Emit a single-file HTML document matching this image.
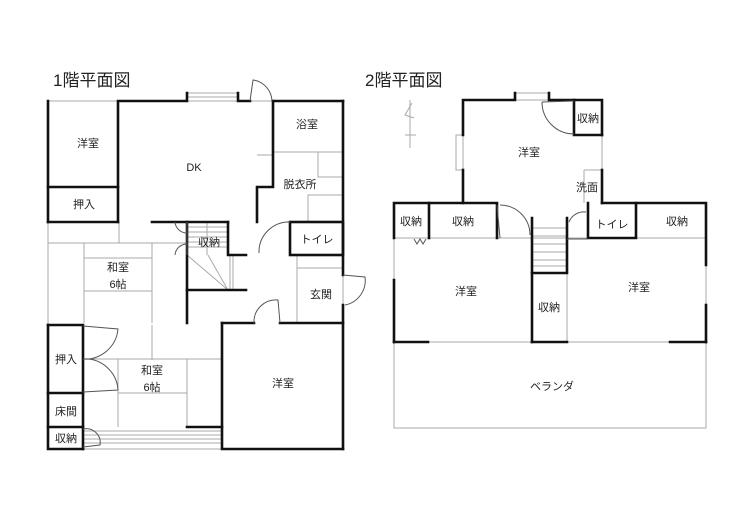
<!DOCTYPE html>
<html><head><meta charset="utf-8"><style>
html,body{margin:0;padding:0;background:#fff;width:733px;height:518px;overflow:hidden}
svg{display:block}
text{font-family:"Liberation Sans","Noto Sans CJK JP",sans-serif;fill:#222}
.t{stroke:#111;stroke-width:2.6;fill:none;stroke-linecap:square}
.n{stroke:#aaa;stroke-width:1;fill:none}
.m{stroke:#555;stroke-width:1;fill:none}
</style></head><body>
<svg width="733" height="518" viewBox="0 0 733 518">
<text x="53" y="86" font-size="17">1階平面図</text>
<text x="365" y="86" font-size="17">2階平面図</text>

<!-- ===== 1F thin lines ===== -->
<g class="n">
<rect x="48" y="101" width="295" height="348"/>
<line x1="273" y1="152" x2="343" y2="152"/>
<rect x="318" y="152" width="25" height="25"/>
<rect x="308" y="195" width="35" height="27"/>
<line x1="257" y1="155" x2="273" y2="155"/>
<line x1="48" y1="243" x2="187" y2="243"/>
<line x1="84" y1="243" x2="84" y2="323"/>
<line x1="152" y1="243" x2="152" y2="323"/>
<line x1="84" y1="291" x2="152" y2="291"/>
<line x1="84" y1="258" x2="152" y2="258"/>
<line x1="119" y1="222" x2="119" y2="243"/>
<line x1="152" y1="325" x2="152" y2="360"/>
<line x1="83" y1="359" x2="222" y2="359"/>
<line x1="118" y1="359" x2="118" y2="427"/>
<line x1="187" y1="359" x2="187" y2="427"/>
<line x1="118" y1="393" x2="187" y2="393"/>
<line x1="297" y1="255" x2="297" y2="323"/>
<line x1="297" y1="268" x2="343" y2="268"/>
<rect x="187" y="93" width="51" height="8"/>
<line x1="187" y1="97" x2="238" y2="97"/>
<line x1="187" y1="255" x2="228" y2="290"/>
<line x1="208" y1="255" x2="228" y2="290"/>
<line x1="230" y1="255" x2="230" y2="290"/>
<line x1="233" y1="255" x2="233" y2="290"/>
</g>
<!-- stairs 1F -->
<g class="n">
<line x1="187" y1="227" x2="228" y2="227"/><line x1="187" y1="232" x2="228" y2="232"/>
<line x1="187" y1="237" x2="228" y2="237"/><line x1="187" y1="242" x2="228" y2="242"/>
<line x1="187" y1="247" x2="228" y2="247"/>
<line x1="207" y1="222" x2="207" y2="255"/>
</g>
<!-- corridor hatch -->
<g class="n">
<line x1="83" y1="431" x2="222" y2="431"/><line x1="83" y1="435" x2="222" y2="435"/>
<line x1="83" y1="439" x2="222" y2="439"/><line x1="83" y1="443" x2="222" y2="443"/>
</g>
<!-- 1F thick walls -->
<g class="t">
<polyline points="48,101 48,222"/>
<line x1="48" y1="187" x2="118" y2="187"/>
<line x1="48" y1="222" x2="118" y2="222"/>
<polyline points="118,222 118,101 187,101 187,93"/>
<polyline points="238,93 238,101 250,101"/>
<polyline points="273,101 273,187 257,187 257,222"/>
<line x1="152" y1="222" x2="228" y2="222"/>
<line x1="273" y1="101" x2="343" y2="101"/>
<line x1="343" y1="101" x2="343" y2="275"/>
<line x1="343" y1="305" x2="343" y2="449"/>
<rect x="290" y="222" width="53" height="33"/>
<polyline points="228,222 228,255 246,255"/>
<polyline points="187,222 187,323"/>
<polyline points="187,290 246,290"/>
<line x1="222" y1="323" x2="254" y2="323"/>
<line x1="280" y1="323" x2="343" y2="323"/>
<polyline points="48,325 48,449 83,449"/>
<polyline points="48,325 83,325 83,449"/>
<line x1="48" y1="393" x2="83" y2="393"/>
<line x1="48" y1="427" x2="83" y2="427"/>
<polyline points="222,323 222,449 343,449"/>
<line x1="187" y1="427" x2="222" y2="427"/>
</g>
<!-- 1F doors -->
<g class="m">
<path d="M250,101 L253,80 A22,22 0 0 1 272,101"/>
<path d="M187,222 L187,255 M187,233 A12,12 0 0 1 175,222 M187,244 A12,12 0 0 0 175,255"/>
<path d="M290,222 A30,30 0 0 0 259,253"/>
<path d="M254,323 A22,22 0 0 1 278,300 L280,323"/>
<path d="M343,275 L365,277 A25,25 0 0 1 345,305"/>
<path d="M83,326 L118,329 A33,33 0 0 1 83,359 A33,33 0 0 1 118,390 L83,392"/>
<path d="M83,429 A14,14 0 0 1 100,445 L83,447"/>
</g>
<g font-size="11" text-anchor="middle">
<text x="88" y="147">洋室</text>
<text x="194" y="171">DK</text>
<text x="307" y="128">浴室</text>
<text x="300" y="188">脱衣所</text>
<text x="84" y="208">押入</text>
<text x="209" y="246">収納</text>
<text x="317" y="243">トイレ</text>
<text x="118" y="271">和室</text>
<text x="118" y="288">6帖</text>
<text x="321" y="298">玄関</text>
<text x="66" y="363">押入</text>
<text x="152" y="374">和室</text>
<text x="152" y="391">6帖</text>
<text x="283" y="387">洋室</text>
<text x="66" y="415">床間</text>
<text x="66" y="442">収納</text>
</g>

<!-- ===== 2F ===== -->
<g class="n">
<rect x="394" y="238" width="312" height="190"/>
<line x1="394" y1="342" x2="706" y2="342"/>
<rect x="515" y="93" width="34" height="7"/>
<rect x="456" y="135" width="7" height="35"/>
<line x1="602" y1="135" x2="602" y2="170"/>
<line x1="584" y1="170" x2="584" y2="203"/>
<line x1="584" y1="170" x2="602" y2="170"/>
<line x1="588" y1="203" x2="588" y2="238"/>
<line x1="567" y1="238" x2="567" y2="342"/>
<line x1="410" y1="100" x2="410" y2="148"/>
<line x1="405" y1="135" x2="416" y2="135"/>
<polyline points="412,103 405,115 414,118"/>
</g>
<g class="n">
<line x1="532" y1="228" x2="567" y2="228"/><line x1="532" y1="236" x2="567" y2="236"/>
<line x1="532" y1="244" x2="567" y2="244"/><line x1="532" y1="252" x2="567" y2="252"/>
<line x1="532" y1="260" x2="567" y2="260"/><line x1="532" y1="266" x2="567" y2="266"/>
</g>
<g class="t">
<polyline points="463,203 463,170"/>
<polyline points="463,135 463,100 515,100 515,93"/>
<polyline points="549,93 549,100 602,100 602,135"/>
<polyline points="574,100 574,135 602,135"/>
<line x1="602" y1="170" x2="602" y2="203"/>
<polyline points="394,238 394,203 497,203 497,238"/>
<line x1="429" y1="203" x2="429" y2="238"/>
<polyline points="532,218 532,342"/>
<polyline points="567,218 567,273 532,273"/>
<polyline points="602,203 706,203 706,265"/>
<polyline points="588,203 588,238 636,238 636,203"/>
<line x1="394" y1="280" x2="394" y2="342"/>
<line x1="706" y1="305" x2="706" y2="342"/>
<line x1="394" y1="342" x2="428" y2="342"/>
<line x1="532" y1="342" x2="567" y2="342"/>
<line x1="670" y1="342" x2="706" y2="342"/>
</g>
<g class="m">
<path d="M497,205 L500,238 M500,205 A30,30 0 0 1 530,235"/>
<path d="M542,102 L574,101 M542,102 A32,32 0 0 0 574,134"/>
<path d="M567,239 L588,239 M569,222 A16,16 0 0 1 586,212"/>
<polyline points="414,239 417,244 420,239 423,244 426,239"/>
</g>
<g font-size="11" text-anchor="middle">
<text x="529" y="156">洋室</text>
<text x="588" y="122">収納</text>
<text x="587" y="191">洗面</text>
<text x="411" y="225">収納</text>
<text x="463" y="225">収納</text>
<text x="612" y="228">トイレ</text>
<text x="677" y="225">収納</text>
<text x="466" y="295">洋室</text>
<text x="639" y="291">洋室</text>
<text x="549" y="311">収納</text>
<text x="552" y="390">ベランダ</text>
</g>
</svg>
</body></html>
